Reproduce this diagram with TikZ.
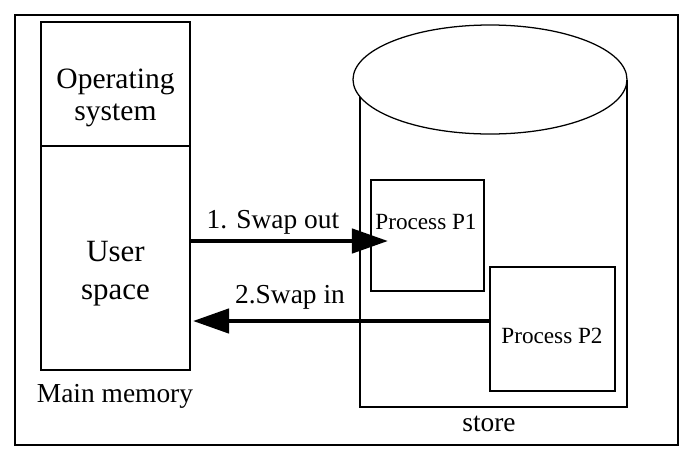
\documentclass[tikz,border=0pt]{standalone}
\usepackage{fontspec}
\setmainfont{Liberation Serif}
\usetikzlibrary{arrows.meta}

\begin{document}
\begin{tikzpicture}[x=0.025cm, y=-0.025cm, line width=1.2pt,
    box/.style={draw, inner sep=0pt, outer sep=0pt},
    big/.style={font=\fontsize{21}{23}\selectfont, align=center},
    lab/.style={font=\fontsize{19.5}{22}\selectfont},
    proc/.style={font=\fontsize{16.5}{19}\selectfont},
    swap/.style={line width=3.2pt, -{Triangle[length=9mm,width=6mm]}}]
    \useasboundingbox (0,0) rectangle (696,468);
    \draw[line width=1.4pt] (15,15) rectangle (678,445);

    % main memory
    \node[box, minimum width=3.725cm, minimum height=3.1cm] (os) at (115.5,84) {};
    \node[box, minimum width=3.725cm, minimum height=5.6cm, anchor=north] (user) at (os.south) {};
    \node[big] (ostext) at (115.5,98) {Operating\\system};
    \node[big, font=\fontsize{22}{27}\selectfont] (usertext) at (115.5,274) {User\\space};
    \node[lab] (mainmem) at (115,396) {Main memory};

    % backing store
    \coordinate (A) at (360,97); \coordinate (B) at (360,407); \coordinate (C) at (627,407); \coordinate (D) at (627,79.5);
    \draw[line width=0.9pt] (490,79.5) ellipse [x radius=137, y radius=54.5];
    \draw (A) -- (B) -- (C) -- (D);
    \node[lab] (store) at (489,424) {store};

    \node[box, minimum width=2.825cm, minimum height=2.775cm] (p1) at (427.5,235.5) {};
    \node[box, minimum width=3.125cm, minimum height=3.1cm] (p2) at (552.5,329) {};
    \node[proc] (p1text) at (426,222) {Process P1};
    \node[proc] (p2text) at (552,336) {Process P2};

    % swapping
    \coordinate (outend) at (388,241); \coordinate (inend) at (193,321);
    \draw[swap] (user.east |- outend) -- (outend);
    \draw[swap] (p2.west |- inend) -- (inend);
    \node[lab] (outlabel) at (273,222) {1. Swap out};
    \node[lab] (inlabel) at (290,297) {2.Swap in};
\end{tikzpicture}
\end{document}
